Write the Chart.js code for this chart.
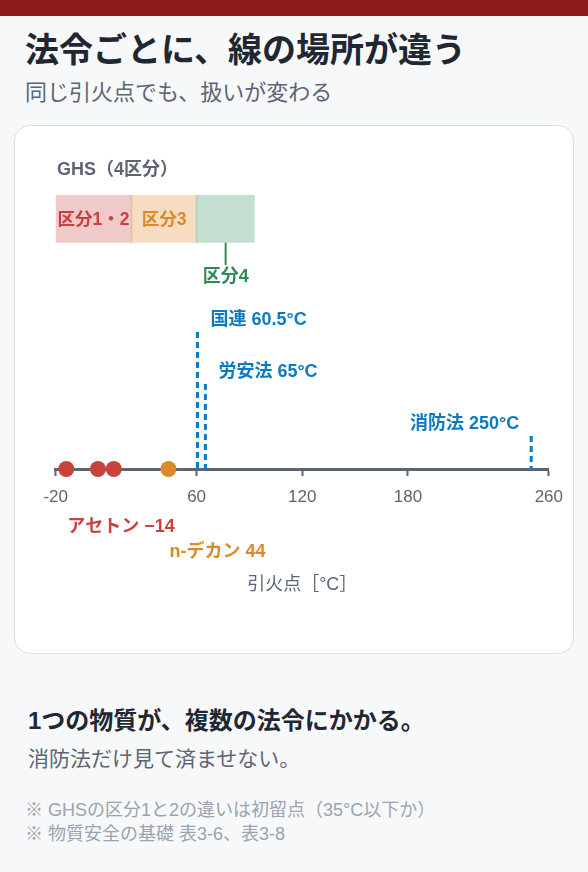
<!DOCTYPE html>
<html lang="ja">
<head>
<meta charset="utf-8">
<script src="https://cdn.jsdelivr.net/npm/chart.js@4.4.1/dist/chart.umd.min.js"></script>
<style>
  html, body { margin: 0; padding: 0; }
  body {
    width: 588px; height: 872px; position: relative; overflow: hidden;
    background: #f7f8fa;
    font-family: "Liberation Sans", "Noto Sans CJK JP", sans-serif;
  }
  .bar { position: absolute; left: 0; top: 0; width: 588px; height: 16px; background: #8b1a1a; }
  .t { position: absolute; white-space: nowrap; line-height: 1; }
  #title { left: 25px; top: 33px; font-size: 34px; font-weight: 700; color: #1f2733; }
  #sub { left: 25px; top: 82px; font-size: 22px; color: #5b6573; }
  #card {
    position: absolute; left: 14px; top: 125px; width: 560px; height: 529px;
    box-sizing: border-box; background: #fff; border: 1.5px solid #d6dee6; border-radius: 16px;
  }
  #wrap { position: absolute; left: 14px; top: 125px; width: 560px; height: 529px; }
  #lead { left: 28px; top: 709px; font-size: 24px; font-weight: 700; color: #1f2733; }
  #lead2 { left: 28px; top: 748px; font-size: 21px; color: #5b6573; }
  .note { left: 25px; font-size: 18px; color: #9aa3ae; }
</style>
</head>
<body>
<div class="bar"></div>
<div class="t" id="title">法令ごとに、線の場所が違う</div>
<div class="t" id="sub">同じ引火点でも、扱いが変わる</div>
<div id="card"></div>
<div id="wrap"><canvas id="chart" width="560" height="529"></canvas></div>
<div class="t" id="lead">1つの物質が、複数の法令にかかる。</div>
<div class="t" id="lead2">消防法だけ見て済ませない。</div>
<div class="t note" style="top:801px">※ GHSの区分1と2の違いは初留点（35°C以下か）</div>
<div class="t note" style="top:825px">※ 物質安全の基礎 表3-6、表3-8</div>

<script>
// 引火点の軸
const tickValues = [-20, 60, 120, 180, 260];

// GHS 区分（境界値）
const ghsBounds = [-20, 23, 60, 93];
const ghsLabels = ['区分1・2', '区分3', '区分4'];

// 各法令の線
const lawNames = ['国連', '労安法', '消防法'];
const lawValues = [60.5, 65, 250];

// 物質の引火点
const substanceNames = ['アセトン', null, null, 'n-デカン'];
const substanceFlash = [-14, 4, 13, 44];

const slate = '#5b6573';
const blue = '#0b7ac2';
const bandFill = ['#f0c9c9', '#f6dcc1', '#c4dfcf'];
const bandEdge = ['#e9b3a6', '#dcc7a6', '#b5d2bf'];
const bandText = ['#c9403f', '#dc8a28', '#2e8b57'];
const font = '"Liberation Sans", "Noto Sans CJK JP", sans-serif';

// どの区分に入るかで色を決める
function bandIndex(v) {
  for (let i = 0; i < ghsLabels.length; i++) {
    if (v < ghsBounds[i + 1]) return i;
  }
  return ghsLabels.length - 1;
}
const dotColors = substanceFlash.map(v => ['#c8433d', '#dc8a28', '#2e8b57'][bandIndex(v)]);

const fmt = v => String(v).replace('-', '−');

const overlay = {
  id: 'overlay',
  beforeDatasetsDraw(chart) {
    const ctx = chart.ctx;
    const x = chart.scales.x;
    const base = chart.chartArea.bottom;
    ctx.save();

    // GHS 見出し
    ctx.font = `700 18px ${font}`;
    ctx.fillStyle = slate;
    ctx.textBaseline = 'middle';
    ctx.textAlign = 'left';
    ctx.fillText('GHS（4区分）', 43, 45);

    // 帯
    const top = 70, bot = 117.7;
    for (let i = 0; i < ghsLabels.length; i++) {
      const x0 = x.getPixelForValue(ghsBounds[i]);
      const x1 = x.getPixelForValue(ghsBounds[i + 1]);
      ctx.fillStyle = bandFill[i];
      ctx.fillRect(x0, top, x1 - x0, bot - top);
      if (i > 0) {
        ctx.fillStyle = bandEdge[i];
        ctx.fillRect(x0 - 1, top, 2, bot - top);
      }
      ctx.fillStyle = bandText[i];
      ctx.font = `700 17.5px ${font}`;
      ctx.textAlign = 'center';
      const cx = (x0 + x1) / 2;
      if (i < ghsLabels.length - 1) {
        ctx.fillText(ghsLabels[i], cx, (top + bot) / 2 + 1);
      } else {
        ctx.strokeStyle = bandText[i];
        ctx.lineWidth = 2;
        ctx.beginPath();
        ctx.moveTo(cx, bot);
        ctx.lineTo(cx, 140);
        ctx.stroke();
        ctx.font = `700 18px ${font}`;
        ctx.fillText(ghsLabels[i], cx, 152);
      }
    }

    // 法令の破線
    const lineTops = [207, 259, 311];
    ctx.strokeStyle = blue;
    ctx.fillStyle = blue;
    ctx.lineWidth = 3;
    ctx.setLineDash([6, 4]);
    ctx.font = `700 18px ${font}`;
    lawValues.forEach((v, i) => {
      const px = x.getPixelForValue(v);
      ctx.beginPath();
      ctx.moveTo(px, lineTops[i]);
      ctx.lineTo(px, base);
      ctx.stroke();
      const label = `${lawNames[i]} ${v}°C`;
      if (px > x.right - 80) {
        ctx.textAlign = 'right';
        ctx.fillText(label, px - 12, lineTops[i] - 12);
      } else {
        ctx.textAlign = 'left';
        ctx.fillText(label, px + 13, lineTops[i] - 12);
      }
    });
    ctx.setLineDash([]);

    // 物質ラベル
    const labelY = [402, 427];
    let k = 0;
    ctx.textAlign = 'left';
    substanceNames.forEach((name, i) => {
      if (!name) return;
      ctx.fillStyle = dotColors[i];
      ctx.fillText(`${name} ${fmt(substanceFlash[i])}`, x.getPixelForValue(substanceFlash[i]) + 1, labelY[k++]);
    });
    ctx.restore();
  }
};

new Chart(document.getElementById('chart'), {
  type: 'scatter',
  data: {
    datasets: [{
      data: substanceFlash.map(v => ({ x: v, y: 0 })),
      backgroundColor: dotColors,
      pointRadius: 8,
      pointHoverRadius: 8,
      borderWidth: 0,
      clip: false
    }]
  },
  options: {
    responsive: false,
    animation: false,
    events: [],
    layout: { padding: { left: 41.7, right: 23, top: 20, bottom: 0 } },
    plugins: { legend: { display: false }, tooltip: { enabled: false } },
    scales: {
      x: {
        type: 'linear',
        min: -20,
        max: 260,
        afterBuildTicks: s => { s.ticks = tickValues.map(v => ({ value: v })); },
        afterFit: s => { s.height = 185; },
        border: { display: true, color: slate, width: 3 },
        grid: { drawOnChartArea: false, drawTicks: true, tickLength: 7, tickColor: slate, tickWidth: 2 },
        ticks: { color: slate, font: { family: font, size: 17 }, padding: 11, maxRotation: 0, autoSkip: false },
        title: {
          display: true,
          text: '引火点［°C］',
          color: slate,
          font: { family: font, size: 18 },
          padding: { top: 0, bottom: 58 }
        }
      },
      y: { display: false, min: 0, max: 1 }
    }
  },
  plugins: [overlay]
});
</script>
</body>
</html>
